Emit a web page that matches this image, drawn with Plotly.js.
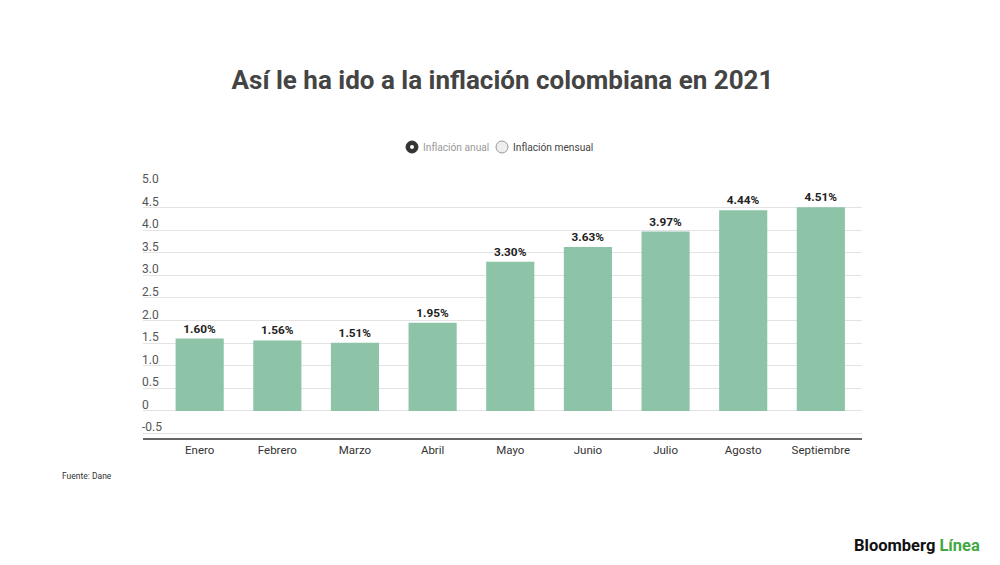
<!DOCTYPE html>
<html>
<head>
<meta charset="utf-8">
<script src="https://cdn.plot.ly/plotly-3.0.1.min.js"></script>
<style>html,body{margin:0;padding:0;background:#fff;}#chart{width:1000px;height:565px;}</style>
</head>
<body>
<div id="chart"></div>
<script>
const months = ['Enero','Febrero','Marzo','Abril','Mayo','Junio','Julio','Agosto','Septiembre'];
const inflacionAnual = [1.60, 1.56, 1.51, 1.95, 3.30, 3.63, 3.97, 4.44, 4.51];
const yTickVals = [-0.5, 0, 0.5, 1.0, 1.5, 2.0, 2.5, 3.0, 3.5, 4.0, 4.5, 5.0];
const yTickText = ['-0.5','0','0.5','1.0','1.5','2.0','2.5','3.0','3.5','4.0','4.5','5.0'];

const Y_MIN = -0.6, Y_MAX = 5.0;
const L = 143, R = 862, T = 185, B = 438;
const W = 1000, H = 565;
const px = x => (x - L) / (R - L);
const py = y => (B - y) / (B - T);

const trace = {
  type: 'bar',
  x: months,
  y: inflacionAnual,
  marker: {color: '#8dc4a7'},
  texttemplate: '%{y:.2f}%',
  textposition: 'outside',
  cliponaxis: false,
  textfont: {family: 'Roboto, sans-serif', size: 11.8, color: '#222', weight: 'bold'},
  hoverinfo: 'skip',
  showlegend: false
};

const yLabelAnnotations = yTickVals.map((v, i) => ({
  text: yTickText[i], xref: 'paper', yref: 'y', x: 0, y: v,
  xanchor: 'left', yanchor: 'bottom', xshift: -3, yshift: -3, showarrow: false,
  font: {family: 'Roboto, sans-serif', size: 12, color: '#555'}
}));

const layout = {
  width: W, height: H,
  margin: {l: L, r: W - R, t: T, b: H - B},
  paper_bgcolor: '#fff', plot_bgcolor: '#fff',
  bargap: 0.38,
  font: {family: 'Roboto, sans-serif', color: '#444'},
  xaxis: {
    type: 'category',
    range: [-0.73, 8.53],
    showgrid: false,
    showline: true, linecolor: '#666', linewidth: 2,
    ticks: '',
    tickfont: {family: 'Roboto, sans-serif', size: 11.5, color: '#333'},
    fixedrange: true
  },
  yaxis: {
    range: [Y_MIN, Y_MAX],
    tickmode: 'array', tickvals: yTickVals, ticktext: yTickText,
    showticklabels: false,
    showgrid: true, gridcolor: '#e3e3e3', gridwidth: 1,
    zeroline: false, showline: false, ticks: '',
    fixedrange: true
  },
  title: {
    text: '<b>Así le ha ido a la inflación colombiana en 2021</b>',
    font: {family: 'Roboto, sans-serif', size: 26, color: '#444'},
    x: 0.5, xanchor: 'center', xref: 'paper',
    y: 1 - 80 / H, yanchor: 'middle', yref: 'container'
  },
  shapes: [
    {type: 'circle', xref: 'paper', yref: 'paper',
     x0: px(406), x1: px(418), y0: py(153), y1: py(141),
     fillcolor: '#333', line: {color: '#333', width: 1}},
    {type: 'circle', xref: 'paper', yref: 'paper',
     x0: px(410), x1: px(414), y0: py(149), y1: py(145),
     fillcolor: '#fff', line: {color: '#fff', width: 0}},
    {type: 'circle', xref: 'paper', yref: 'paper',
     x0: px(496), x1: px(508), y0: py(153), y1: py(141),
     fillcolor: '#eeeeee', line: {color: '#999', width: 1}}
  ],
  annotations: yLabelAnnotations.concat([
    {text: 'Inflación anual', xref: 'paper', yref: 'paper', x: px(421), y: py(147),
     xanchor: 'left', yanchor: 'middle', showarrow: false,
     font: {family: 'Roboto, sans-serif', size: 10.2, color: '#999'}},
    {text: 'Inflación mensual', xref: 'paper', yref: 'paper', x: px(511), y: py(147),
     xanchor: 'left', yanchor: 'middle', showarrow: false,
     font: {family: 'Roboto, sans-serif', size: 10.2, color: '#444'}},
    {text: 'Fuente: Dane', xref: 'paper', yref: 'paper', x: px(60), y: py(476),
     xanchor: 'left', yanchor: 'middle', showarrow: false,
     font: {family: 'Roboto, sans-serif', size: 8.5, color: '#333'}},
    {text: '<b>Bloomberg</b> <b><span style="color:#43a843">Línea</span></b>', xref: 'paper', yref: 'paper',
     x: px(982), y: py(545), xanchor: 'right', yanchor: 'middle', showarrow: false,
     font: {family: 'Roboto, sans-serif', size: 16.5, color: '#111'}}
  ])
};

Plotly.newPlot('chart', [trace], layout, {displayModeBar: false, staticPlot: true});
</script>
</body>
</html>
